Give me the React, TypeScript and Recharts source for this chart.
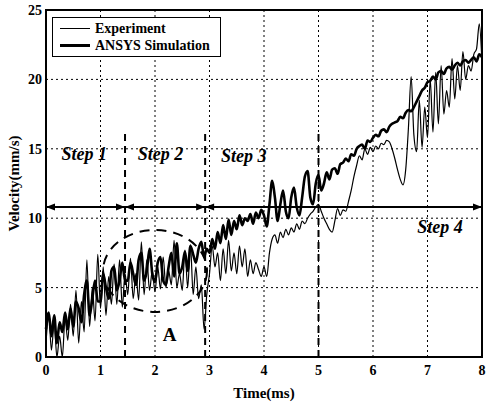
import {
  LineChart, Line, XAxis, YAxis, CartesianGrid, Legend,
  ReferenceLine, ReferenceArea, ReferenceDot,
} from 'recharts';

const SERIF = '"Liberation Serif", "DejaVu Serif", serif';

// time axis, 0.05 ms spacing
const TIME = [
  0, 0.05, 0.1, 0.15, 0.2, 0.25, 0.3, 0.35, 0.4, 0.45,
  0.5, 0.55, 0.6, 0.65, 0.7, 0.75, 0.8, 0.85, 0.9, 0.95,
  1, 1.05, 1.1, 1.15, 1.2, 1.25, 1.3, 1.35, 1.4, 1.45,
  1.5, 1.55, 1.6, 1.65, 1.7, 1.75, 1.8, 1.85, 1.9, 1.95,
  2, 2.05, 2.1, 2.15, 2.2, 2.25, 2.3, 2.35, 2.4, 2.45,
  2.5, 2.55, 2.6, 2.65, 2.7, 2.75, 2.8, 2.85, 2.9, 2.95,
  3, 3.05, 3.1, 3.15, 3.2, 3.25, 3.3, 3.35, 3.4, 3.45,
  3.5, 3.55, 3.6, 3.65, 3.7, 3.75, 3.8, 3.85, 3.9, 3.95,
  4, 4.05, 4.1, 4.15, 4.2, 4.25, 4.3, 4.35, 4.4, 4.45,
  4.5, 4.55, 4.6, 4.65, 4.7, 4.75, 4.8, 4.85, 4.9, 4.95,
  5, 5.05, 5.1, 5.15, 5.2, 5.25, 5.3, 5.35, 5.4, 5.45,
  5.5, 5.55, 5.6, 5.65, 5.7, 5.75, 5.8, 5.85, 5.9, 5.95,
  6, 6.05, 6.1, 6.15, 6.2, 6.25, 6.3, 6.35, 6.4, 6.45,
  6.5, 6.55, 6.6, 6.65, 6.7, 6.75, 6.8, 6.85, 6.9, 6.95,
  7, 7.05, 7.1, 7.15, 7.2, 7.25, 7.3, 7.35, 7.4, 7.45,
  7.5, 7.55, 7.6, 7.65, 7.7, 7.75, 7.8, 7.85, 7.9, 7.95,
  8,
];

const EXPERIMENT = [
  1.0, 3.0, 0.5, 2.5, 0.0, 1.5, 0.0, 2.8, 1.2, 3.8,
  1.5, 4.8, 1.0, 4.0, 1.8, 7.0, 2.2, 5.0, 2.6, 7.4,
  3.5, 6.5, 3.0, 5.8, 3.8, 6.7, 3.8, 7.0, 3.6, 6.0,
  4.5, 7.1, 4.2, 6.0, 4.1, 8.3, 4.5, 7.0, 4.8, 6.2,
  4.7, 6.5, 4.9, 7.2, 5.0, 6.2, 5.2, 8.4, 5.0, 6.0,
  4.8, 7.7, 5.0, 8.1, 4.5, 6.5, 4.2, 5.2, 2.0, 4.5,
  6.0, 8.0, 6.5, 7.5, 5.5, 7.8, 6.0, 8.4, 6.2, 7.5,
  6.0, 8.0, 6.5, 7.8, 5.8, 7.0, 6.0, 6.8, 6.3, 5.8,
  6.5, 5.8, 7.5, 8.5, 8.8, 8.2, 9.0, 8.6, 9.2, 8.8,
  9.3, 9.0, 9.6, 9.2, 9.8, 9.6, 10.0, 10.3, 10.5, 10.8,
  11.0, 10.5, 10.0, 9.6, 9.2, 9.0, 9.8, 10.7, 10.2, 10.6,
  10.5, 11.2, 12.0, 13.0, 13.8, 14.5, 14.2, 15.0, 14.6, 15.1,
  14.8, 15.2, 15.0, 15.4, 15.3, 15.6, 15.5, 15.0, 14.3, 13.5,
  12.8, 12.4, 13.5, 16.5, 20.2, 16.0, 14.8, 18.5, 15.1, 18.0,
  15.8, 20.0, 16.2, 20.5, 16.8, 21.0, 17.5, 19.2, 18.0, 21.5,
  18.6, 21.0, 19.2, 22.0, 20.0, 21.0, 20.6, 21.8, 22.2, 24.0,
  21.2,
];

const SIMULATION = [
  2.0, 3.2, 1.5, 3.0, 1.0, 2.5, 1.8, 3.2, 2.0, 3.5,
  2.2, 4.0, 3.5, 2.5, 4.5, 5.5, 3.0, 4.2, 5.5, 4.0,
  4.0, 6.0, 5.0, 4.2, 6.2, 6.5, 4.8, 5.5, 6.8, 5.5,
  5.5, 6.8, 6.0, 5.2, 7.0, 7.5, 5.5, 6.2, 7.8, 6.0,
  5.4, 6.8, 7.2, 5.5, 5.2, 6.5, 7.5, 5.8, 8.2, 6.0,
  6.5, 7.6, 6.2, 8.0, 7.4, 6.8, 7.8, 8.3, 7.2, 7.8,
  7.5, 8.5, 7.8, 9.0, 8.2, 9.5, 8.5, 9.9, 8.8, 9.8,
  9.2, 10.2, 9.5, 10.0, 9.8, 10.3, 9.6, 10.4, 10.0, 10.6,
  10.2, 9.4, 11.0, 12.7, 11.5, 9.8, 11.0, 12.0, 10.5, 10.0,
  11.5, 12.2, 10.8, 10.2, 11.5, 13.0, 13.4, 11.5, 11.0, 12.5,
  13.1, 12.0, 12.5, 13.3, 12.8, 13.5, 13.6, 13.2, 13.9, 14.0,
  14.3, 14.1, 14.6, 14.5, 15.0, 15.2, 15.3, 15.0, 15.6, 15.5,
  15.8, 16.0, 15.9, 16.3, 16.4, 16.2, 16.6, 16.8, 16.9, 17.0,
  17.3, 17.2, 17.6, 17.8, 17.7, 18.0, 18.4, 18.8, 19.2, 19.4,
  19.8, 19.9, 20.2, 20.0, 20.5, 20.6, 20.4, 20.8, 20.9, 20.7,
  21.0, 21.2, 21.0, 21.3, 21.4, 21.2, 21.4, 21.6, 21.3, 21.8,
  21.6,
];

const X_TICKS = [0, 1, 2, 3, 4, 5, 6, 7, 8];
const Y_TICKS = [0, 5, 10, 15, 20, 25];

const STEP_BOUNDS = [1.45, 2.92, 5.0];
const STEP_TOP = 16.3;
const ARROW_Y = 10.8;
const ARROW_SPANS = [[0, 1.45], [1.45, 2.92], [2.92, 8]];
const STEP_LABELS = [
  { text: 'Step 1', x: 0.7, y: 14.6 },
  { text: 'Step 2', x: 2.1, y: 14.6 },
  { text: 'Step 3', x: 3.63, y: 14.5 },
  { text: 'Step 4', x: 7.23, y: 9.35 },
];
const REGION_A = { x: 2.0, y: 6.2 };
const LABEL_A = { x: 2.27, y: 1.6 };

const LEGEND = [
  { name: 'Experiment', width: 1.2 },
  { name: 'ANSYS Simulation', width: 2.6 },
];

const data = TIME.map((t, i) => ({ t, exp: EXPERIMENT[i], sim: SIMULATION[i] }));

const tickStyle = { fontSize: 14, fontWeight: 700, fill: '#000', fontFamily: SERIF };

const ArrowLine = (p: any) => {
  const { x1, x2, y1 } = p;
  return (
    <g>
      <line x1={x1} y1={y1} x2={x2} y2={y1} stroke="#000" strokeWidth={2} />
      <polygon points={`${x1},${y1} ${x1 + 9},${y1 - 3.5} ${x1 + 9},${y1 + 3.5}`} fill="#000" />
      <polygon points={`${x2},${y1} ${x2 - 9},${y1 - 3.5} ${x2 - 9},${y1 + 3.5}`} fill="#000" />
    </g>
  );
};

export default function App() {
  return (
    <div style={{ position: 'absolute', left: 0, top: 0, background: '#fff' }}>
      <LineChart
        width={486}
        height={403}
        data={data}
        margin={{ top: 10, right: 4, left: 0, bottom: 0 }}
      >
        <CartesianGrid stroke="#000" strokeWidth={1} strokeDasharray="2 3" />
        <XAxis
          dataKey="t"
          type="number"
          domain={[0, 8]}
          ticks={X_TICKS}
          height={46}
          tickLine={false}
          axisLine={false}
          tick={tickStyle}
          tickMargin={2}
          interval={0}
          label={{
            value: 'Time(ms)', position: 'insideBottom', offset: 5,
            style: { fontSize: 15, fontWeight: 700, fill: '#000', fontFamily: SERIF },
          }}
        />
        <YAxis
          type="number"
          domain={[0, 25]}
          ticks={Y_TICKS}
          width={46}
          tickLine={false}
          axisLine={false}
          tick={tickStyle}
          tickSize={4}
          tickMargin={0}
          interval={0}
          label={{
            value: 'Velocity(mm/s)', angle: -90, position: 'center', dx: -9,
            style: { fontSize: 15, fontWeight: 700, fill: '#000', fontFamily: SERIF, textAnchor: 'middle' },
          }}
        />
        <Line
          type="monotone"
          dataKey="exp"
          stroke="#000"
          strokeWidth={1.2}
          dot={false}
          isAnimationActive={false}
        />
        <Line
          type="monotone"
          dataKey="sim"
          stroke="#000"
          strokeWidth={2.6}
          dot={false}
          isAnimationActive={false}
        />
        {STEP_BOUNDS.map((b) => (
          <ReferenceLine
            key={b}
            segment={[{ x: b, y: 0 }, { x: b, y: STEP_TOP }]}
            stroke="#000"
            strokeWidth={2}
            strokeDasharray="7 5"
          />
        ))}
        {ARROW_SPANS.map(([a, b]) => (
          <ReferenceLine
            key={a}
            segment={[{ x: a, y: ARROW_Y }, { x: b, y: ARROW_Y }]}
            shape={ArrowLine}
          />
        ))}
        <ReferenceDot
          x={REGION_A.x}
          y={REGION_A.y}
          r={0}
          shape={(p: any) => (
            <ellipse
              cx={p.cx}
              cy={p.cy}
              rx={52}
              ry={41}
              fill="none"
              stroke="#000"
              strokeWidth={2}
              strokeDasharray="10 7"
            />
          )}
        />
        <ReferenceDot
          x={LABEL_A.x}
          y={LABEL_A.y}
          r={0}
          shape={(p: any) => (
            <text x={p.cx} y={p.cy} textAnchor="middle" dominantBaseline="central"
              fontFamily={SERIF} fontSize={19} fontWeight={700} fill="#000">A</text>
          )}
        />
        {STEP_LABELS.map((s) => (
          <ReferenceDot
            key={s.text}
            x={s.x}
            y={s.y}
            r={0}
            shape={(p: any) => (
              <text x={p.cx} y={p.cy} textAnchor="middle" dominantBaseline="central"
                fontFamily={SERIF} fontSize={18} fontWeight={700} fontStyle="italic" fill="#000">
                {s.text}
              </text>
            )}
          />
        ))}
        <ReferenceArea x1={0} x2={8} y1={0} y2={25} fill="none" fillOpacity={0} stroke="#000" strokeWidth={2} />
        <Legend
          layout="vertical"
          align="center"
          verticalAlign="middle"
          wrapperStyle={{ left: 52, top: 17, width: 'auto', height: 'auto' }}
          content={() => (
            <div style={{
              border: '1px solid #000', background: '#fff',
              padding: '2px 10px 2px 7px', fontFamily: SERIF, fontSize: 14,
              fontWeight: 700, lineHeight: '17px', color: '#000',
            }}>
              {LEGEND.map((l) => (
                <div key={l.name} style={{ display: 'flex', alignItems: 'center', gap: 5 }}>
                  <span style={{ width: 30, height: l.width, background: '#000', display: 'inline-block' }} />
                  {l.name}
                </div>
              ))}
            </div>
          )}
        />
      </LineChart>
    </div>
  );
}
